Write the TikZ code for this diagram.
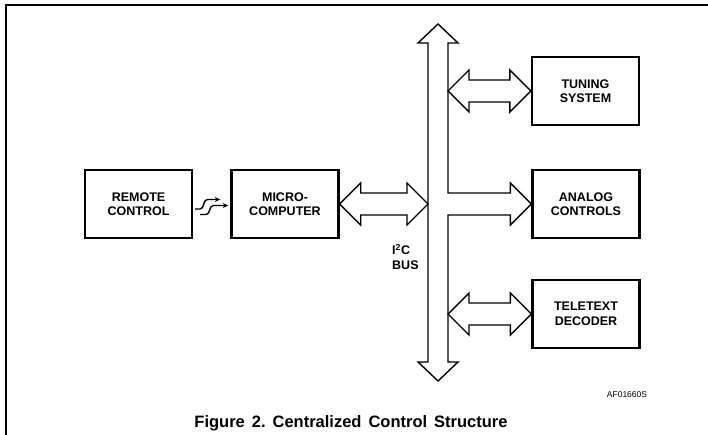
\documentclass[tikz,border=0pt]{standalone}
\usepackage{fontspec}
\setmainfont{Liberation Sans}
\usetikzlibrary{calc,arrows.meta}
\newcommand\mydblarrow[2]{%
  \draw[arr] (#1) -- ($(#1)+(21,-21)$) -- ($(#1)+(21,-11)$) -- ($(#2)+(-21,-11)$)
    -- ($(#2)+(-21,-21)$) -- (#2) -- ($(#2)+(-21,21)$) -- ($(#2)+(-21,11)$)
    -- ($(#1)+(21,11)$) -- ($(#1)+(21,21)$) -- cycle;}
\begin{document}
\begin{tikzpicture}[x=1pt,y=-1pt,
  blk/.style={draw,line width=2.4pt,minimum width=107pt,minimum height=68pt,
    align=center,inner sep=0pt,font=\fontsize{12.5}{14.5}\selectfont\bfseries},
  arr/.style={draw,line width=1.4pt,line join=miter},
  sq/.style={line width=1.4pt,-{Stealth[length=5.5pt,width=5pt]}},
  lbl/.style={inner sep=0pt,font=\fontsize{12.5}{14.5}\selectfont\bfseries}]
\useasboundingbox (0,0) rectangle (708,435);
% frame
\draw[line width=1.4pt] (6,435) -- (6,5) -- (708,5);
% blocks
\node[blk] (remote)   at (138.5,204) {REMOTE\\CONTROL};
\node[blk] (micro)    at (285,204)   {MICRO-\\COMPUTER};
\node[blk] (tuning)   at (585.5,91)  {TUNING\\SYSTEM};
\node[blk] (analog)   at (586,204)   {ANALOG\\CONTROLS};
\node[blk] (teletext) at (586,314)   {TELETEXT\\DECODER};
% bus
\coordinate (bustop) at (438,24);
\coordinate (busbot) at (438,381);
\coordinate (busL) at (428,204);
\coordinate (busR) at (448,204);
\coordinate (mR) at (busL |- micro.east);
\coordinate (tL) at (busR |- tuning.west);
\coordinate (xL) at (busR |- teletext.west);
\draw[arr] (bustop) -- ++(20,19) -- ++(-10,0) |- ($(analog.west)+(-21,-11)$)
  -- ++(0,-10) -- (analog.west) -- ++(-21,21) -- ++(0,-10)
  -| ($(busbot)+(10,-19)$) -- ++(10,0) -- (busbot) -- ++(-20,-19) -- ++(10,0)
  -- ($(bustop)+(-10,19)$) -- ++(-10,0) -- cycle;
% double arrows
\mydblarrow{micro.east}{mR}
\mydblarrow{tL}{tuning.west}
\mydblarrow{xL}{teletext.west}
% infrared link
\draw[sq] ($(remote.east)+(2,5)$) -- ++(5,0) .. controls +(4,0) and +(-4,0) .. ++(7,-9.5)
  -- ($(micro.west)+(-10,-4.5)$);
\draw[sq] ($(remote.east)+(7,10.5)$) -- ++(6,0) .. controls +(4,0) and +(-4,0) .. ++(7,-9)
  -- ($(micro.west)+(-2,1.5)$);
% labels
\node[lbl,anchor=west,align=left] (bus) at (392,257) {I\textsuperscript{2}C\\BUS};
\node[inner sep=0pt,font=\fontsize{8.5}{10}\selectfont] (code) at (627,395) {AF01660S};
\node[inner sep=0pt,anchor=base,font=\fontsize{16.5}{18}\selectfont\bfseries] (cap) at (351,427)
  {Figure\hspace{7pt}2.\hspace{7pt}Centralized\hspace{7pt}Control\hspace{7pt}Structure};
\end{tikzpicture}
\end{document}
